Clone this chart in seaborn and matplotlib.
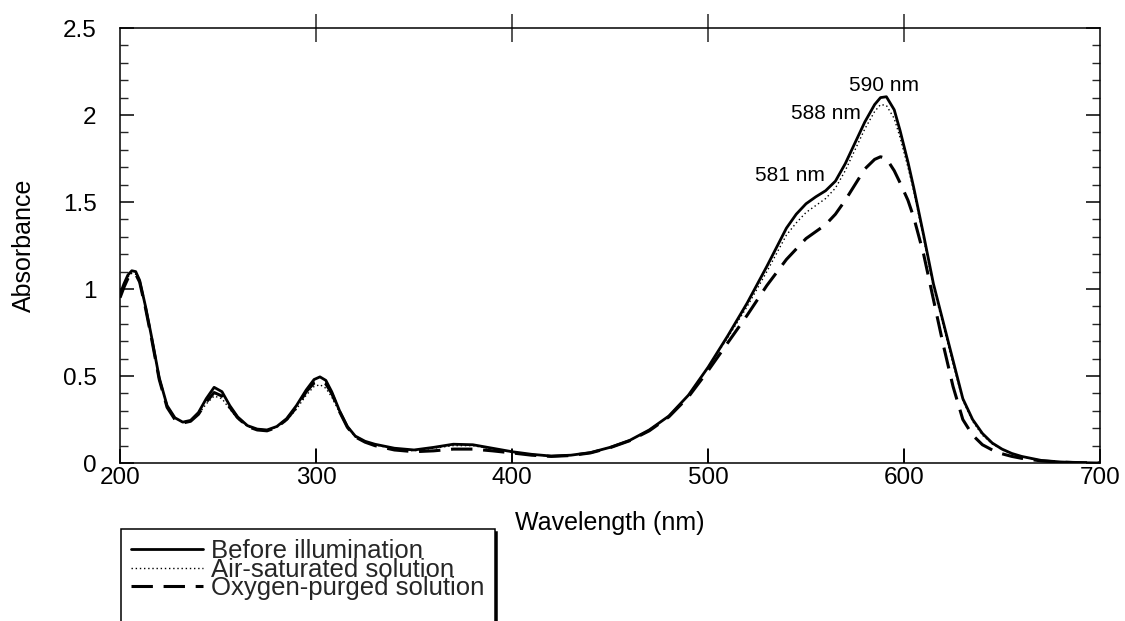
import matplotlib
matplotlib.use("Agg")
import matplotlib.pyplot as plt
from matplotlib.ticker import MultipleLocator, FuncFormatter
from matplotlib.lines import Line2D
import pandas as pd
import seaborn as sns

# Absorption spectra, wavelength in nm
wavelength = [200, 202, 204, 206, 208, 210, 213, 216, 220, 224, 228, 232, 236, 240,
              244, 248, 252, 256, 260, 265, 270, 275, 280, 285, 290, 295, 299, 302,
              305, 308, 312, 316, 320, 325, 330, 340, 350, 360, 370, 380, 390, 400,
              410, 420, 430, 440, 450, 460, 470, 480, 490, 500, 510, 520, 530, 540,
              545, 550, 555, 560, 565, 570, 575, 580, 585, 588, 591, 595, 598, 602, 605,
              610, 615, 620, 625, 630, 635, 640, 645, 650, 655, 660, 670, 680, 690, 700]

before_illumination = [0.97, 1.03, 1.08, 1.105, 1.10, 1.05, 0.90, 0.73, 0.49, 0.33, 0.26, 0.235,
                       0.245, 0.29, 0.37, 0.435, 0.41, 0.33, 0.265, 0.215, 0.195, 0.19, 0.21,
                       0.255, 0.33, 0.42, 0.48, 0.495, 0.475, 0.41, 0.30, 0.21, 0.155, 0.125,
                       0.108, 0.085, 0.075, 0.09, 0.108, 0.105, 0.085, 0.065, 0.05, 0.04, 0.045,
                       0.06, 0.09, 0.13, 0.19, 0.27, 0.39, 0.55, 0.73, 0.92, 1.13, 1.35, 1.43,
                       1.49, 1.53, 1.565, 1.62, 1.72, 1.84, 1.96, 2.06, 2.10, 2.105, 2.03, 1.91,
                       1.73, 1.58, 1.31, 1.03, 0.81, 0.59, 0.37, 0.25, 0.17, 0.115, 0.08, 0.055,
                       0.038, 0.015, 0.006, 0.002, 0.0]

air_saturated = [0.96, 1.02, 1.07, 1.09, 1.085, 1.04, 0.90, 0.73, 0.49, 0.33, 0.26, 0.235,
                 0.24, 0.28, 0.34, 0.385, 0.37, 0.31, 0.255, 0.21, 0.19, 0.19, 0.205, 0.245,
                 0.31, 0.39, 0.44, 0.45, 0.43, 0.38, 0.29, 0.205, 0.15, 0.12, 0.105, 0.08,
                 0.07, 0.085, 0.10, 0.10, 0.08, 0.062, 0.048, 0.04, 0.045, 0.06, 0.09, 0.13,
                 0.19, 0.27, 0.39, 0.55, 0.72, 0.90, 1.10, 1.31, 1.38, 1.44, 1.48, 1.52,
                 1.58, 1.68, 1.80, 1.92, 2.02, 2.06, 2.055, 1.98, 1.87, 1.70, 1.56, 1.29,
                 1.01, 0.79, 0.57, 0.36, 0.24, 0.16, 0.11, 0.077, 0.053, 0.036, 0.014, 0.005,
                 0.002, 0.0]

oxygen_purged = [0.95, 1.01, 1.06, 1.085, 1.085, 1.04, 0.89, 0.72, 0.48, 0.32, 0.25, 0.23,
                 0.24, 0.28, 0.35, 0.405, 0.385, 0.32, 0.26, 0.21, 0.19, 0.185, 0.205, 0.25,
                 0.32, 0.41, 0.46, 0.47, 0.455, 0.40, 0.295, 0.205, 0.15, 0.12, 0.10, 0.075,
                 0.065, 0.07, 0.08, 0.08, 0.07, 0.058, 0.045, 0.038, 0.043, 0.058, 0.088,
                 0.128, 0.185, 0.265, 0.38, 0.53, 0.69, 0.85, 1.02, 1.17, 1.23, 1.29, 1.33,
                 1.37, 1.43, 1.51, 1.60, 1.69, 1.745, 1.76, 1.75, 1.68, 1.61, 1.51, 1.41,
                 1.20, 0.94, 0.68, 0.44, 0.25, 0.16, 0.105, 0.075, 0.053, 0.038, 0.027,
                 0.012, 0.005, 0.002, 0.0]

series_labels = ["Before illumination", "Air-saturated solution", "Oxygen-purged solution"]

x_ticks = [200, 300, 400, 500, 600, 700]
inner_ticks = [300, 400, 500, 600]

peak_labels = ["590 nm", "588 nm", "581 nm"]
peak_label_x = [590.0, 560.0, 542.0]
peak_label_y = [2.17, 2.01, 1.65]

sns.set_style("ticks")
plt.rcParams["font.family"] = ["Liberation Sans", "DejaVu Sans"]
plt.rcParams["axes.linewidth"] = 1.1

df = pd.DataFrame({
    "wavelength": wavelength * 3,
    "absorbance": before_illumination + air_saturated + oxygen_purged,
    "series": sum([[s] * len(wavelength) for s in series_labels], []),
})

fig = plt.figure(figsize=(11.25, 6.21), dpi=100)
ax = fig.add_axes([0.1067, 0.2544, 0.8711, 0.7005])

line_styles = {
    series_labels[0]: dict(linestyle="-", linewidth=2.0),
    series_labels[1]: dict(linestyle=(0, (1, 2)), linewidth=1.0),
    series_labels[2]: dict(linestyle=(0, (7, 3.5)), linewidth=2.2),
}
for name in series_labels:
    sns.lineplot(data=df[df["series"] == name], x="wavelength", y="absorbance",
                 color="black", ax=ax, legend=False, solid_joinstyle="round",
                 dash_joinstyle="round", **line_styles[name])

ax.set_xlim(200, 700)
ax.set_ylim(0, 2.5)
ax.set_xticks(x_ticks)
ax.set_xticklabels([str(t) for t in x_ticks])
ax.yaxis.set_major_locator(MultipleLocator(0.5))
ax.yaxis.set_minor_locator(MultipleLocator(0.1))
ax.yaxis.set_major_formatter(FuncFormatter(lambda v, p: f"{v:g}"))

for side in ["top", "right", "left", "bottom"]:
    ax.spines[side].set_visible(True)
    ax.spines[side].set_color("black")

ax.tick_params(axis="x", which="major", direction="in", length=10, width=1.2,
               bottom=True, top=False, labelsize=17.5, pad=3,
               color="black", labelcolor="black")
ax.tick_params(axis="y", which="major", direction="in", length=10, width=1.1,
               left=True, right=True, labelsize=17.5, pad=17, colors="black")
ax.tick_params(axis="y", which="minor", direction="in", length=5.5, width=1.0,
               right=True, left=True)

# inward tick marks along the bottom frame
for t in inner_ticks:
    ax.axvline(t, ymin=0, ymax=0.032, color="black", linewidth=1.2, zorder=3)

# top edge: ticks crossing the frame line
top = ax.secondary_xaxis("top")
top.set_xticks(inner_ticks)
top.tick_params(direction="inout", length=20, width=1.1, labeltop=False)
top.spines["top"].set_visible(False)
top.spines["bottom"].set_visible(False)

ax.set_xlabel("Wavelength (nm)", fontsize=18, labelpad=16, color="black")
ax.set_ylabel("Absorbance", fontsize=18, labelpad=19, color="black")

for txt, x, y in zip(peak_labels, peak_label_x, peak_label_y):
    ax.text(x, y, txt, fontsize=15, ha="center", va="center", color="black")

# legend box continues below the bottom edge of the figure
handles = list(ax.get_lines()[:3]) + [Line2D([], [], linestyle="none")]
labels = series_labels + [" "]
leg = fig.legend(handles, labels, loc="upper left",
                 bbox_to_anchor=(121 / 1125, 1 - 529 / 621), bbox_transform=fig.transFigure,
                 borderaxespad=0, fontsize=18.5, frameon=True, fancybox=False,
                 edgecolor="black", handlelength=2.8, handletextpad=0.3,
                 labelspacing=-0.22, borderpad=0.4,
                 shadow={"color": "black", "alpha": 1})
leg.get_frame().set_linewidth(1.1)

fig.savefig("out.png", dpi=100)
